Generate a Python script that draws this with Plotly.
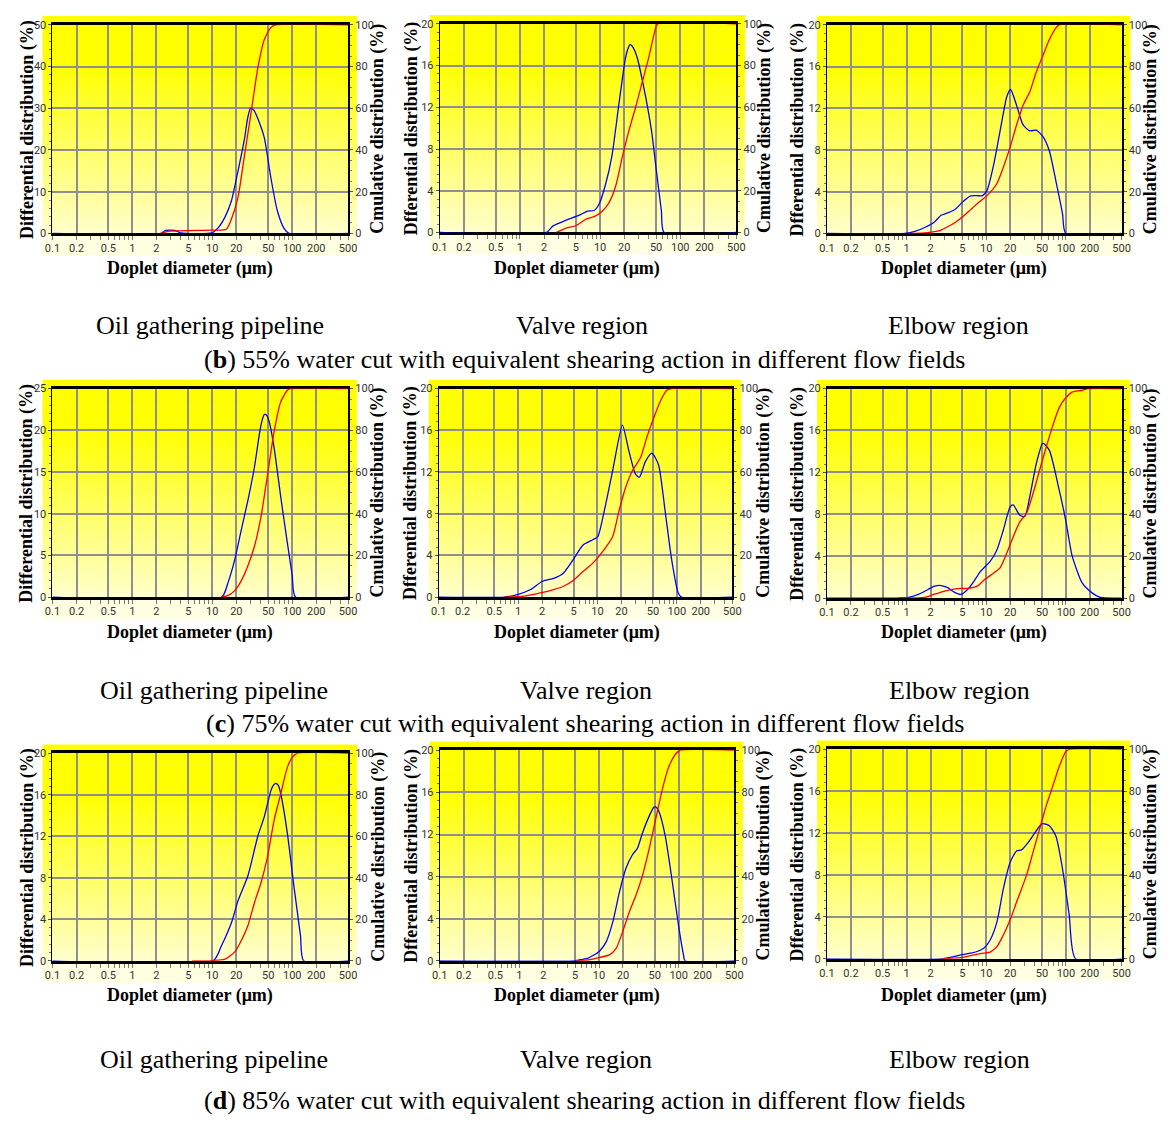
import math
import plotly.graph_objects as go

# page body has an 8px margin; the figure starts 8px in and reaches the window edge
PAGE_W, PAGE_H = 1170, 1122
OFF = 8
W, H = PAGE_W - OFF, PAGE_H - OFF

# ---------------- data ----------------
X_TICKS = [0.1, 0.2, 0.5, 1, 2, 5, 10, 20, 50, 100, 200, 500]
X_TICK_LABELS = ["0.1", "0.2", "0.5", "1", "2", "5", "10", "20", "50", "100", "200", "500"]
X_MINOR = [m * 10 ** e for e in (-1, 0, 1, 2) for m in range(1, 10) if m * 10 ** e <= 500]

CUM_TICKS = [0, 20, 40, 60, 80, 100]
DIFF_MAX = [50, 20, 20, 25, 20, 20, 20, 20, 20]
DIFF_DTICK = [10, 4, 4, 5, 4, 4, 4, 4, 4]

# 55% water cut
OIL55_D_DIFF = [0.1, 2.27, 2.6, 3.4, 4.0, 9.85, 11.9, 14.4, 17.4, 21, 25.4, 27.5, 30, 33, 37, 44.8, 54, 65, 79, 91, 500]
OIL55_DIFF = [0, 0, 0.7, 0.7, 0.15, 0.15, 1.4, 3.9, 7.9, 15, 22.9, 27.3, 30, 29.6, 27.6, 22.9, 13.4, 5.5, 1.2, 0, 0]
OIL55_D_CUM = [2.27, 2.9, 9.85, 15, 17.4, 21, 25.4, 30.6, 37, 44.8, 54, 62, 500]
OIL55_CUM = [0, 1.1, 1.6, 2, 7, 17.4, 38, 58, 79, 93, 98.7, 100, 100]

VALVE55_D_DIFF = [0.1, 2.14, 2.59, 3.77, 5.5, 6.97, 8.4, 9.7, 11.7, 14.1, 17.1, 20.6, 22.2, 23.7, 25.5, 28.7, 34.7, 43.9, 50.5, 58.2, 62.8, 500]
VALVE55_DIFF = [0, 0, 0.63, 1.17, 1.65, 2.05, 2.1, 2.7, 4.6, 7.4, 12.2, 16.6, 17.6, 18.0, 17.8, 16.9, 14.1, 9.7, 5.85, 2.05, 0, 0]
VALVE55_D_CUM = [2.85, 3.77, 5.0, 6.65, 8.83, 10.7, 12.9, 15.6, 18.8, 22.7, 27.4, 33.1, 39.9, 48.2, 52, 500]
VALVE55_CUM = [0, 2.1, 3.2, 6.3, 7.9, 10.3, 14.2, 22, 35.6, 48.3, 59.3, 71.2, 83, 96.5, 100, 100]

ELBOW55_D_DIFF = [0.1, 0.955, 1.27, 1.69, 2.24, 2.71, 3.28, 4.16, 5.02, 6.37, 7.69, 8.87, 10.2, 12.4, 14.9, 18.1, 20.2, 24.0, 29.0, 35.1, 42.4, 51.3, 62, 75, 90.6, 99.6, 500]
ELBOW55_DIFF = [0, 0, 0.19, 0.57, 1.1, 1.74, 1.96, 2.37, 3.0, 3.6, 3.63, 3.6, 4.1, 6.6, 9.8, 13.1, 13.8, 12.3, 10.4, 9.84, 9.9, 9.3, 7.9, 5.0, 1.9, 0, 0]
ELBOW55_D_CUM = [1.05, 1.69, 2.24, 2.71, 3.28, 4.16, 5.02, 6.37, 7.69, 10.2, 13.5, 16.3, 19.8, 24.0, 29.0, 35.1, 42.4, 51.3, 62, 75, 82, 500]
ELBOW55_CUM = [0, 0.3, 0.9, 1.6, 3.2, 5.5, 7.9, 11.4, 14.2, 18.1, 23.7, 31.5, 41, 52, 61.5, 67.8, 77.3, 85.2, 93, 98.6, 100, 100]

# 75% water cut
OIL75_D_DIFF = [0.1, 13.1, 15.8, 19.1, 23.1, 27.9, 33.7, 38.8, 41.5, 44.8, 48, 51.6, 59.4, 71.9, 86.9, 100, 110, 500]
OIL75_DIFF = [0, 0, 1.8, 4.5, 8.1, 11.6, 15.6, 19.5, 21.0, 21.9, 21.8, 21.0, 17.9, 12, 6.5, 2.6, 0, 0]
OIL75_D_CUM = [13.1, 15.8, 19.1, 23.1, 27.9, 33.7, 40.7, 49.3, 59.4, 71.9, 86.9, 95, 500]
OIL75_CUM = [0, 0.8, 3.1, 7.9, 15, 24.4, 38.6, 59, 79.5, 93.7, 99.2, 100, 100]

VALVE75_D_DIFF = [0.1, 0.67, 0.98, 1.44, 2.0, 2.8, 3.72, 4.94, 6.58, 8.75, 10.1, 12.2, 15.5, 20.6, 24.9, 30.1, 33.8, 40.1, 48.5, 58.7, 71, 85.9, 104, 114, 500]
VALVE75_DIFF = [0, 0, 0.25, 0.73, 1.5, 1.8, 2.3, 3.6, 5.0, 5.5, 5.8, 8.3, 12.1, 16.5, 14, 11.8, 11.5, 13, 13.8, 12.7, 8.3, 3.6, 0.4, 0, 0]
VALVE75_D_CUM = [0.67, 1.19, 1.91, 2.8, 3.72, 4.94, 6.58, 8.75, 11.6, 15.5, 18.7, 22.6, 27.4, 34.8, 42.1, 50.9, 61.5, 74.5, 85.9, 500]
VALVE75_CUM = [0, 0.5, 2, 3.6, 5.2, 8, 12.3, 16.3, 21.8, 28.9, 41.5, 52.6, 60.5, 66.8, 77, 85.8, 93.7, 99.2, 100, 100]

ELBOW75_D_DIFF = [0.1, 0.72, 1.05, 1.40, 1.85, 2.24, 2.71, 3.28, 3.96, 4.79, 5.79, 7.0, 8.46, 11.2, 13.6, 16.4, 19.9, 21.8, 26.4, 30.5, 35.1, 42.4, 51.3, 62, 82.4, 99.6, 120, 160, 213, 270, 500]
ELBOW75_DIFF = [0, 0, 0.06, 0.35, 0.82, 1.14, 1.2, 1.0, 0.57, 0.35, 0.8, 1.6, 2.55, 3.5, 4.6, 6.5, 8.7, 8.9, 7.9, 7.8, 9.65, 12.8, 14.8, 14.1, 10.3, 7.4, 4.0, 1.45, 0.5, 0.06, 0]
ELBOW75_D_CUM = [0.79, 1.69, 2.24, 2.71, 3.6, 4.79, 5.79, 7.69, 9.3, 12.4, 14.9, 18.1, 21.8, 26.4, 31.9, 38.6, 46.6, 56.4, 68.2, 82.4, 99.6, 120, 160, 194, 500]
ELBOW75_CUM = [0, 0.3, 1.9, 2.8, 4.1, 4.6, 4.6, 5.7, 8.5, 12, 14.4, 21.5, 29.3, 36.4, 40.4, 49.8, 60.9, 71.9, 82.2, 90.9, 95.6, 98.3, 99.2, 100, 100]

# 85% water cut
OIL85_D_DIFF = [0.1, 10.3, 13.1, 17.4, 21, 27.9, 37.1, 44.8, 54.1, 58, 62.4, 67, 71.9, 86.9, 105, 127, 139, 500]
OIL85_DIFF = [0, 0, 1.5, 3.7, 5.8, 8.2, 12, 13.9, 16.4, 16.9, 17.1, 16.9, 16.1, 12.3, 7.2, 2.4, 0, 0]
OIL85_D_CUM = [5.6, 8.96, 11.9, 14.4, 19.1, 23.1, 27.9, 33.7, 40.7, 49.2, 59.4, 71.9, 86.9, 100, 115, 500]
OIL85_CUM = [0, 0, 0.3, 0.8, 4.3, 9.8, 17, 28, 37.6, 50.3, 67.8, 80.5, 93.2, 98, 100, 100]

VALVE85_D_DIFF = [0.1, 4.77, 5.77, 6.97, 8.43, 10.2, 12.3, 14.9, 18.0, 21.8, 26.4, 30.4, 35.0, 42.4, 48.9, 52, 56.4, 68.1, 82.3, 99.5, 115, 120, 500]
VALVE85_DIFF = [0, 0, 0.1, 0.2, 0.5, 0.94, 1.8, 3.7, 6.5, 8.8, 10.1, 10.7, 12.1, 13.7, 14.6, 14.6, 14.2, 11.8, 7.75, 3.4, 0.56, 0, 0]
VALVE85_D_CUM = [5.25, 7.67, 10.2, 13.5, 16.4, 19.8, 23.9, 29.0, 35.0, 42.4, 51.2, 61.9, 74.8, 90.6, 104, 500]
VALVE85_CUM = [0, 0.5, 1.6, 2.8, 5.9, 13.8, 23, 31, 40.3, 52.8, 66.9, 81, 91.9, 98, 100, 100]

ELBOW85_D_DIFF = [0.1, 2.71, 3.6, 4.79, 6.37, 7.69, 9.3, 11.2, 13.6, 16.4, 19.9, 24.0, 27.7, 33.5, 40.5, 50.3, 62, 75, 90.6, 110, 132, 500]
ELBOW85_DIFF = [0, 0, 0.16, 0.38, 0.54, 0.7, 1.0, 1.8, 3.5, 6.7, 9.2, 10.3, 10.4, 11.1, 12.0, 12.9, 12.7, 11.7, 8.6, 4.2, 0, 0]
ELBOW85_D_CUM = [2.71, 4.79, 7.0, 9.3, 11.2, 13.6, 16.4, 19.9, 24.0, 31.9, 38.6, 46.6, 56.4, 68.2, 82.4, 99.6, 110, 500]
ELBOW85_CUM = [0, 0.6, 1.9, 2.7, 3.2, 5.8, 11.4, 18.5, 27.1, 39.7, 50.8, 61.8, 72.9, 82.3, 91.8, 98.9, 100, 100]

PANEL_DATA = [
    (OIL55_D_DIFF, OIL55_DIFF, OIL55_D_CUM, OIL55_CUM),
    (VALVE55_D_DIFF, VALVE55_DIFF, VALVE55_D_CUM, VALVE55_CUM),
    (ELBOW55_D_DIFF, ELBOW55_DIFF, ELBOW55_D_CUM, ELBOW55_CUM),
    (OIL75_D_DIFF, OIL75_DIFF, OIL75_D_CUM, OIL75_CUM),
    (VALVE75_D_DIFF, VALVE75_DIFF, VALVE75_D_CUM, VALVE75_CUM),
    (ELBOW75_D_DIFF, ELBOW75_DIFF, ELBOW75_D_CUM, ELBOW75_CUM),
    (OIL85_D_DIFF, OIL85_DIFF, OIL85_D_CUM, OIL85_CUM),
    (VALVE85_D_DIFF, VALVE85_DIFF, VALVE85_D_CUM, VALVE85_CUM),
    (ELBOW85_D_DIFF, ELBOW85_DIFF, ELBOW85_D_CUM, ELBOW85_CUM),
]

LEFT_TITLES = ["Differential distribution (%)", "Dfferential distribution (%)", "Dfferential distribution (%)",
               "Differential distribution (%)", "Dfferential distribution (%)", "Dfferential distribution (%)",
               "Differential distribution (%)", "Dfferential distribution (%)", "Dfferential distribution (%)"]
RIGHT_TITLE = "Cmulative distribution (%)"
X_TITLE = "Doplet diameter (μm)"
REGIONS = ["Oil gathering pipeline", "Valve region", "Elbow region"]
ROW_CAPTIONS = [
    "(<b>b</b>) 55% water cut with equivalent shearing action in different flow fields",
    "(<b>c</b>) 75% water cut with equivalent shearing action in different flow fields",
    "(<b>d</b>) 85% water cut with equivalent shearing action in different flow fields",
]

# ---------------- layout geometry (window pixels) ----------------
PANELS = [
    (45, 19, 345, 230), (438, 18, 739, 229), (831, 19, 1130, 230),
    (45, 387, 345, 598), (437, 387, 735, 598), (831, 387, 1130, 599),
    (45, 756, 345, 966), (438, 753, 737, 966), (831, 752, 1130, 964),
]
LEFT_TITLE_X = [19, 409, 801]
RIGHT_TITLE_X = [375, 767, 1159]
XTITLE_X = [185, 577, 970]
XTITLE_Y = [266, 634, 1001]
REGION_X = [[205, 582, 965], [209, 586, 966], [209, 586, 966]]
REGION_Y = [323, 692, 1066]
CAPTION_Y = [358, 726, 1107]

TICK_FONT = dict(family="Liberation Sans Narrow, Arial Narrow, Roboto, sans-serif", size=11, color="#333333")
TITLE_FONT = dict(family="Liberation Serif, Times New Roman, serif", size=18, color="black")
CAP_FONT = dict(family="Liberation Serif, Times New Roman, serif", size=26, color="black")
GRID = "#8f8f8f"

def px(x):
    return (x - OFF) / W

def py(y):
    return 1 - (y - OFF) / H

fig = go.Figure()
layout = dict(width=W, height=H, margin=dict(l=0, r=0, t=0, b=0), paper_bgcolor="white",
              plot_bgcolor="rgba(0,0,0,0)", showlegend=False)
shapes = []
annotations = []

for i, (l, t, r, b) in enumerate(PANELS):
    k = i + 1
    xname = "x" if k == 1 else f"x{k}"
    yl = 2 * k - 1
    yr = 2 * k
    ylname = "y" if yl == 1 else f"y{yl}"
    yrname = f"y{yr}"
    dd, dv, cd, cv = PANEL_DATA[i]

    fig.add_trace(go.Scatter(x=dd, y=dv, xaxis=xname, yaxis=ylname, mode="lines",
                             line=dict(color="#0000ff", width=1.3, shape="spline", smoothing=0.6),
                             hoverinfo="skip"))
    fig.add_trace(go.Scatter(x=cd, y=cv, xaxis=xname, yaxis=yrname, mode="lines",
                             line=dict(color="#ff0000", width=1.3, shape="spline", smoothing=0.6),
                             hoverinfo="skip"))

    xdom = [px(l), px(r)]
    ydom = [py(b), py(t)]
    layout["xaxis" if k == 1 else f"xaxis{k}"] = dict(
        type="log", range=[-1, math.log10(500)], domain=xdom, anchor=ylname,
        tickmode="array", tickvals=X_TICKS, ticktext=X_TICK_LABELS, tickfont=TICK_FONT,
        ticks="outside", ticklen=2, tickcolor="#777",
        showgrid=True, gridcolor=GRID, gridwidth=1.5,
        showline=True, linecolor="black", linewidth=3, mirror=True, zeroline=False,
        layer="below traces",
        minor=dict(tickmode="array", tickvals=X_MINOR, ticks="outside", ticklen=4,
                   tickcolor="#777", showgrid=False),
    )
    ymax = DIFF_MAX[i]
    dt = DIFF_DTICK[i]
    layout["yaxis" if yl == 1 else f"yaxis{yl}"] = dict(
        domain=ydom, anchor=xname, range=[0, ymax], tickmode="linear", tick0=0, dtick=dt,
        tickfont=TICK_FONT, ticks="outside", ticklen=3, tickcolor="#555",
        showgrid=True, gridcolor=GRID, gridwidth=1.5, zeroline=False,
        showline=True, linecolor="black", linewidth=1, layer="below traces",
        minor=dict(ticks="outside", ticklen=2, dtick=dt / 5, tickcolor="#777", showgrid=False),
    )
    layout[f"yaxis{yr}"] = dict(
        domain=ydom, anchor=xname, overlaying=ylname, side="right", range=[0, 100],
        tickmode="array", tickvals=CUM_TICKS, tickfont=TICK_FONT, ticks="outside", ticklen=3,
        tickcolor="#555", showgrid=False, zeroline=False,
        showline=True, linecolor="black", linewidth=2, layer="below traces",
        minor=dict(ticks="outside", ticklen=2, dtick=5, tickcolor="#777", showgrid=False),
    )

    # gradient background (yellow -> pale yellow)
    ot, ob = t - 9, b + 22
    ol, orr = l - 10, r + 9
    nb = 36
    step = (ob - ot) / nb
    for j in range(nb):
        y0 = ot + j * step
        y1 = y0 + step + 0.6
        yc = y0 + step / 2
        s = (yc - t) / (b - t)
        if s < 0.2:
            bl = 0
        elif s <= 1.0:
            bl = (s - 0.2) / 0.8 * 205
        else:
            bl = 225
        col = f"rgb(255,255,{int(bl)})"
        shapes.append(dict(type="rect", xref="paper", yref="paper", x0=px(ol), x1=px(orr),
                           y0=py(min(y1, ob)), y1=py(y0), fillcolor=col, line=dict(width=0),
                           layer="below"))

    row, col_i = divmod(i, 3)
    cy = (t + b) / 2
    annotations.append(dict(text=f"<b>{LEFT_TITLES[i]}</b>", x=px(LEFT_TITLE_X[col_i]), y=py(cy),
                            xref="paper", yref="paper", showarrow=False, textangle=-90,
                            xanchor="center", yanchor="middle", font=TITLE_FONT))
    annotations.append(dict(text=f"<b>{RIGHT_TITLE}</b>", x=px(RIGHT_TITLE_X[col_i]), y=py(cy),
                            xref="paper", yref="paper", showarrow=False, textangle=-90,
                            xanchor="center", yanchor="middle", font=TITLE_FONT))
    annotations.append(dict(text=f"<b>{X_TITLE}</b>", x=px(XTITLE_X[col_i]), y=py(XTITLE_Y[row]),
                            xref="paper", yref="paper", showarrow=False,
                            xanchor="center", yanchor="middle", font=TITLE_FONT))
    annotations.append(dict(text=REGIONS[col_i], x=px(REGION_X[row][col_i]), y=py(REGION_Y[row]),
                            xref="paper", yref="paper", showarrow=False,
                            xanchor="center", yanchor="middle", font=CAP_FONT))

for row in range(3):
    annotations.append(dict(text=ROW_CAPTIONS[row], x=px(585), y=py(CAPTION_Y[row]),
                            xref="paper", yref="paper", showarrow=False,
                            xanchor="center", yanchor="middle", font=CAP_FONT))

layout["shapes"] = shapes
layout["annotations"] = annotations
fig.update_layout(**layout)
fig.write_html("out.html")
